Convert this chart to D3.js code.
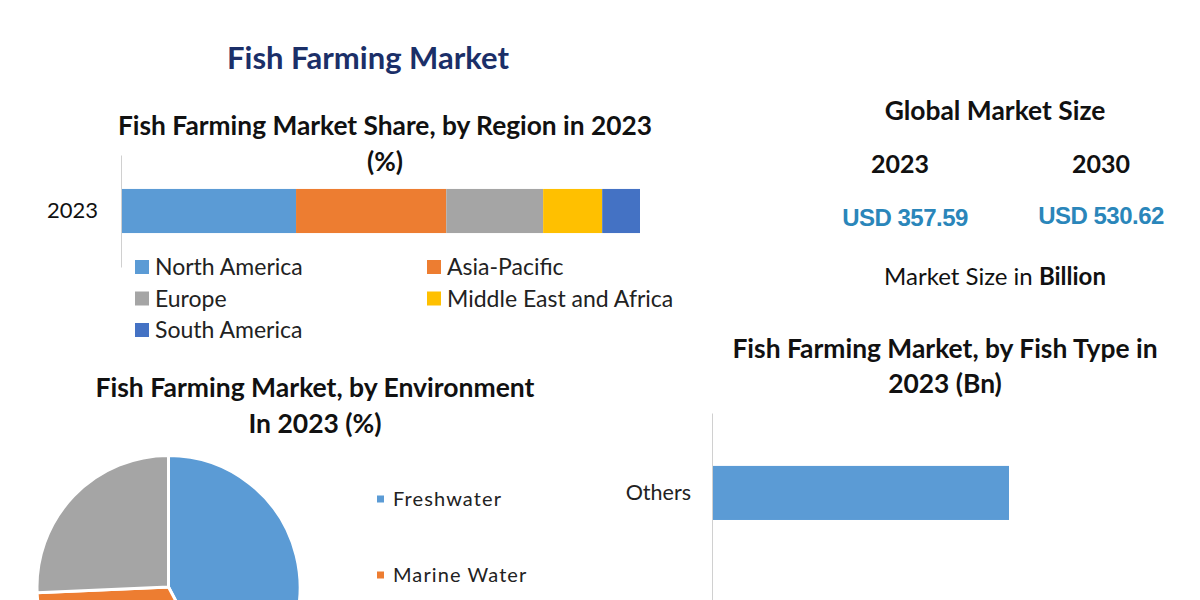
<!DOCTYPE html>
<html>
<head>
<meta charset="utf-8">
<script src="https://cdn.jsdelivr.net/npm/d3@7"></script>
<style>
  html, body { margin: 0; padding: 0; background: #fff; }
  text { font-family: Lato, sans-serif; }
</style>
</head>
<body>
<div id="chart-area"></div>
<script>
// values
var regions = ['North America', 'Asia-Pacific', 'Europe', 'Middle East and Africa', 'South America']
var regionShare = [33.6, 29, 18.7, 11.4, 7.3]
var regionColors = ['#5b9bd5', '#ed7d31', '#a5a5a5', '#ffc000', '#4472c4']
var shareYears = ['2023']

var environments = ['Freshwater', 'Marine Water']
var environmentShare = [42.3, 32, 25.7]
var environmentColors = ['#5b9bd5', '#ed7d31', '#a5a5a5']

var fishTypes = ['Others']
var fishValues = [29.6]

var sizeYears = ['2023', '2030']
var sizeLabels = ['USD 357.59', 'USD 530.62']

var width = 1200
var height = 600

var svg = d3.select("#chart-area").append("svg")
    .attr("width", width)
    .attr("height", height)
    .style("display", "block")

function addText(x, y, str, size, weight, color, anchor) {
    return svg.append("text")
        .attr("x", x)
        .attr("y", y)
        .attr("dy", "0.35em")
        .style("text-anchor", anchor || "middle")
        .style("font-size", size + "px")
        .style("font-weight", weight || "normal")
        .style("fill", color || "#111")
        .text(str)
}

// Titles
addText(368, 58, "Fish Farming Market", 31, "bold", "#1b2f68")
addText(385, 126, "Fish Farming Market Share, by Region in 2023", 26.3, "bold")
addText(385, 162, "(%)", 26.3, "bold")
addText(315, 388, "Fish Farming Market, by Environment", 26.5, "bold")
addText(315, 424, "In 2023 (%)", 26.5, "bold")
addText(945, 349, "Fish Farming Market, by Fish Type in", 26.4, "bold")
addText(945, 384, "2023 (Bn)", 26.4, "bold")

// Market size panel
addText(995, 111, "Global Market Size", 26.4, "bold")
var sizeX = d3.scalePoint().domain(sizeYears).range([900, 1101])
sizeYears.forEach(function(y, i) {
    addText(sizeX(y), 164, y, 25, "bold")
    addText(sizeX(y) + (i == 0 ? 5 : 0), i == 0 ? 218 : 216, sizeLabels[i], 24, "bold", "#2a86ba")
        .style("font-family", "Liberation Sans")
        .style("letter-spacing", "-0.5px")
})
var sizeNote = addText(995, 277, "Market Size in ", 24, "normal")
sizeNote.append("tspan").style("font-weight", "bold").text("Billion")

// Stacked bar, share by region
var shareX = d3.scaleLinear().domain([0, d3.sum(regionShare)]).range([122, 640])
var shareY = d3.scaleBand().domain(shareYears).range([155, 267]).paddingInner(0).paddingOuter(0.77)
var stacked = d3.stack().keys(d3.range(regions.length))([regionShare])

svg.selectAll(".share").data(stacked).enter().append("rect")
    .attr("class", "share")
    .attr("x", function(d) { return shareX(d[0][0]) })
    .attr("width", function(d) { return shareX(d[0][1]) - shareX(d[0][0]) })
    .attr("y", shareY(shareYears[0]))
    .attr("height", shareY.bandwidth())
    .attr("fill", function(d, i) { return regionColors[i] })

var shareAxis = svg.append("g")
    .attr("transform", "translate(121,0)")
    .call(d3.axisLeft(shareY).tickSize(0).tickPadding(23))
shareAxis.selectAll("text").style("font-size", "22px").style("font-family", "Lato").style("fill", "#111")
shareAxis.select("path").attr("stroke", "#d0d0d0")

// Region legend, two columns
var legendX = d3.scalePoint().domain([0, 1]).range([135, 427])
var legendY = d3.scalePoint().domain([0, 1, 2]).range([267, 330])
regions.forEach(function(r, i) {
    var col = i % 2, row = Math.floor(i / 2)
    svg.append("rect")
        .attr("x", legendX(col))
        .attr("y", legendY(row) - 7)
        .attr("width", 14)
        .attr("height", 14)
        .attr("fill", regionColors[i])
    addText(legendX(col) + 20, legendY(row), r, 23, "normal", "#222", "start")
})

// Pie, share by environment
var pie = d3.pie().sort(null)
var arc = d3.arc().innerRadius(0).outerRadius(131.5)
var pieG = svg.append("g").attr("transform", "translate(168.5,587)")
pieG.selectAll("path").data(pie(environmentShare)).enter().append("path")
    .attr("d", arc)
    .attr("fill", function(d, i) { return environmentColors[i] })
    .attr("stroke", "#fff")
    .attr("stroke-width", 3)

var envY = d3.scalePoint().domain(environments).range([499, 575])
environments.forEach(function(e, i) {
    svg.append("rect")
        .attr("x", 377)
        .attr("y", envY(e) - 3.5)
        .attr("width", 7)
        .attr("height", 7)
        .attr("fill", environmentColors[i])
    addText(393, envY(e), e, 20, "normal", "#222", "start").style("letter-spacing", "1.1px")
})

// Bar, by fish type (rest of the chart runs off the bottom of the picture)
var fishX = d3.scaleLinear().domain([0, 40]).range([713, 1113])
var fishY = d3.scaleBand().domain(fishTypes).range([413, 640]).paddingInner(0).paddingOuter(1.6).align(0.306)

svg.selectAll(".fish").data(fishValues).enter().append("rect")
    .attr("class", "fish")
    .attr("x", fishX(0))
    .attr("y", function(d, i) { return fishY(fishTypes[i]) })
    .attr("width", function(d) { return fishX(d) - fishX(0) })
    .attr("height", fishY.bandwidth())
    .attr("fill", "#5b9bd5")

var fishAxis = svg.append("g")
    .attr("transform", "translate(712,0)")
    .call(d3.axisLeft(fishY).tickSize(0).tickPadding(21))
fishAxis.selectAll("text").style("font-size", "21.5px").style("font-family", "Lato").style("fill", "#222")
fishAxis.select("path").attr("stroke", "#d0d0d0")
</script>
</body>
</html>
